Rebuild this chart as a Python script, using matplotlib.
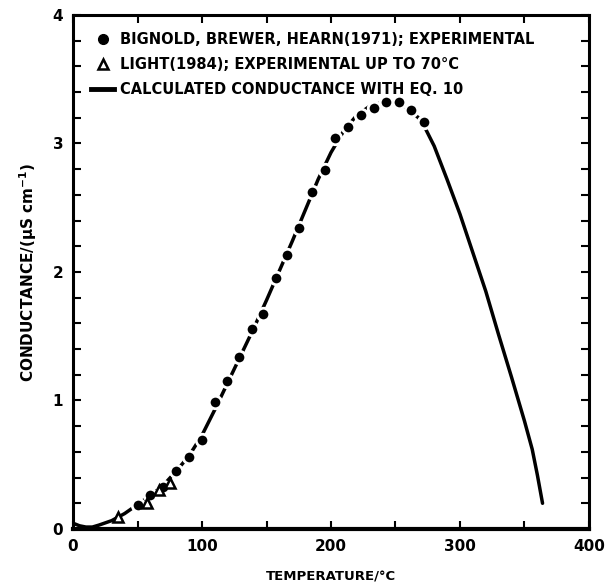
import matplotlib.pyplot as plt
from matplotlib.lines import Line2D
from matplotlib.ticker import MultipleLocator

# Bignold, Brewer, Hearn (1971) experimental points
bignold_T = [50, 60, 70, 80, 90, 100, 110, 119, 129, 139, 147, 157, 166, 175,
             185, 195, 203, 213, 223, 233, 243, 253, 262, 272]
bignold_C = [0.19, 0.265, 0.33, 0.45, 0.56, 0.69, 0.99, 1.15, 1.34, 1.56, 1.67,
             1.95, 2.13, 2.34, 2.62, 2.79, 3.04, 3.13, 3.22, 3.28, 3.32, 3.32,
             3.26, 3.165]

# Light (1984) experimental points
light_T = [35, 57, 67, 75]
light_C = [0.09, 0.20, 0.30, 0.355]

# calculated conductance (eq. 10)
calc_T = [0, 5, 10, 15, 20, 30, 40, 50, 60, 70, 80, 90, 100, 110, 120, 130,
          140, 150, 160, 170, 180, 190, 200, 210, 220, 230, 240, 250, 260,
          270, 280, 290, 300, 310, 320, 330, 340, 350, 356, 360, 364]
calc_C = [0.045, 0.025, 0.015, 0.015, 0.03, 0.065, 0.12, 0.19, 0.26, 0.34,
          0.45, 0.57, 0.73, 0.93, 1.14, 1.35, 1.56, 1.78, 2.01, 2.24, 2.48,
          2.72, 2.93, 3.10, 3.22, 3.29, 3.32, 3.32, 3.27, 3.18, 2.98, 2.72,
          2.45, 2.15, 1.85, 1.51, 1.18, 0.84, 0.62, 0.42, 0.20]

x_ticks = [0, 100, 200, 300, 400]
y_ticks = [0, 1, 2, 3, 4]

plt.rcParams['font.family'] = 'DejaVu Sans'
plt.rcParams['font.weight'] = 'bold'

fig = plt.figure(figsize=(6.07, 5.86), dpi=100)
ax = fig.add_axes([0.1203, 0.0973, 0.85, 0.8771])

ax.plot(calc_T, calc_C, color='black', lw=2.5, solid_capstyle='round', zorder=2)
ax.plot(bignold_T, bignold_C, 'o', ms=9, mfc='black', mec='white', mew=2.0,
        zorder=3)
ax.plot(light_T, light_C, '^', ms=7.5, mfc='white', mec='black', mew=1.8,
        zorder=3)

ax.set_xlim(0, 400)
ax.set_ylim(0, 4)
ax.set_xticks(x_ticks)
ax.set_yticks(y_ticks)
ax.xaxis.set_minor_locator(MultipleLocator(50))
ax.yaxis.set_minor_locator(MultipleLocator(0.2))
ax.tick_params(which='both', direction='in', top=True, right=True,
               length=6, width=1.5)
ax.tick_params(which='major', labelsize=11, pad=7)
for lab in ax.get_xticklabels() + ax.get_yticklabels():
    lab.set_fontweight('bold')
for side in ['top', 'left', 'right']:
    ax.spines[side].set_linewidth(2.2)
ax.spines['bottom'].set_linewidth(3.0)

ax.set_xlabel('TEMPERATURE/\u00b0C', fontsize=9.5, fontweight='bold', labelpad=12)
ax.set_ylabel('CONDUCTANCE/($\\mathbf{\\mu}$S cm$^{-1}$)', fontsize=11,
              fontweight='bold', labelpad=10)

handles = [
    Line2D([], [], ls='none', marker='o', ms=7, mfc='black', mec='black'),
    Line2D([], [], ls='none', marker='^', ms=7, mfc='white', mec='black', mew=1.8),
    Line2D([], [], color='black', lw=3.5),
]
labels = ['BIGNOLD, BREWER, HEARN(1971); EXPERIMENTAL',
          'LIGHT(1984); EXPERIMENTAL UP TO 70\u00b0C',
          'CALCULATED CONDUCTANCE WITH EQ. 10']
ax.legend(handles, labels, loc='upper left', bbox_to_anchor=(0.035, 0.967),
          frameon=False, borderpad=0, borderaxespad=0, handlelength=1.6,
          handletextpad=0.4, labelspacing=0.7,
          prop={'size': 10.5, 'weight': 'bold'})

plt.savefig('out.png', dpi=100)
